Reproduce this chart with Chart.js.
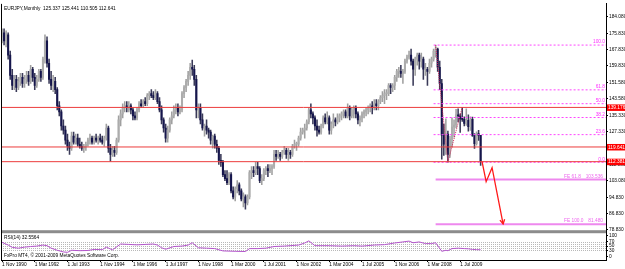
<!DOCTYPE html>
<html>
<head>
<meta charset="utf-8">
<script src="https://cdn.jsdelivr.net/npm/chart.js@4.4.0/dist/chart.umd.min.js"></script>
<style>
  html, body { margin: 0; padding: 0; background: #fff; }
  #wrap { width: 625px; height: 269px; }
</style>
</head>
<body>
<div id="wrap"><canvas id="chart" width="625" height="269"></canvas></div>
<script>
// EURJPY monthly bars, index 0 = Nov 1990 ... index 234 = May 2010
const opens = [
  174, 176,
  172, 175, 165, 155, 150, 153, 149, 152, 154, 151, 153, 155,
  152, 158, 154, 150, 153, 157, 154, 163, 172, 161, 153, 150,
  152, 148, 140, 137, 130, 128, 123, 120, 119, 125, 122, 124,
  121, 120, 119, 120, 121, 123, 124, 122, 124, 123, 124, 123,
  122, 124, 129, 119, 116, 118, 117, 123, 133, 136, 139, 140,
  139, 140, 138, 135, 134, 138, 141, 140, 142, 141, 145, 146,
  145, 144, 146, 142, 138, 133, 129, 124, 128, 133, 135, 138,
  139, 137, 138, 146, 149, 152, 155, 159, 158, 153, 138, 139,
  133, 129, 130, 128, 127, 123, 125, 121, 119, 113, 112, 106,
  104, 102, 106, 98, 95, 99, 101, 98, 94, 95, 92, 95,
  107, 108, 107, 110, 109, 103, 104, 108, 109, 108, 109, 110,
  116, 115, 116, 115, 117, 118, 116, 117, 116, 120, 121, 121,
  124, 127, 128, 129, 132, 138, 136, 134, 130, 128, 127, 130,
  134, 132, 134, 128, 131, 133, 132, 134, 135, 136, 137, 135,
  139, 135, 138, 139, 136, 133, 134, 136, 137, 138, 139, 140,
  139, 141, 140, 142, 144, 145, 146, 146, 150, 149, 150, 154,
  157, 157, 156, 157, 162, 164, 165, 162, 158, 163, 165, 162,
  163, 158, 158, 157, 161, 163, 167, 168, 159, 151, 125.5, 121,
  126, 116, 123.5, 129.5, 130.5, 135.5, 135, 133.5, 133.3, 131.3, 132.8, 129.7,
  133.3, 125.4, 121.3, 126.2, 125.337
];
const highs = [
  178, 178,
  177, 176, 167, 158, 155, 155, 154, 156, 156, 155, 157, 157,
  160, 159, 156, 155, 158, 158, 164, 175, 174, 163, 157, 155,
  154, 149, 142, 138, 133, 130, 126, 122, 127, 127, 126, 126,
  124, 122, 121, 122, 124, 126, 125, 125, 126, 125, 126, 125,
  125, 131, 130, 121, 120, 120, 124, 135, 138, 141, 142, 142,
  142, 141, 139, 137, 139, 142, 143, 143, 144, 146, 147, 148,
  147, 148, 147, 144, 140, 134, 131, 130, 134, 137, 140, 141,
  141, 140, 147, 150, 153, 157, 161, 162.5, 160, 155, 141, 141,
  136, 131, 133, 129, 128, 125.5, 126, 123, 120, 116, 113, 108,
  108, 107, 107, 100, 100, 103, 102, 99, 97, 96, 96, 108,
  110, 110, 112, 112, 110, 106, 109, 110, 111, 111, 111, 118,
  118, 118, 117, 118, 120, 119, 119, 118, 121, 123, 122, 125,
  129, 129, 131, 133, 139, 141, 137, 135, 133, 130, 131, 135,
  136, 137, 135, 132, 136, 134, 136, 136, 137, 138, 138, 141,
  140, 139, 140, 140, 137, 135, 137, 138, 139, 140, 141, 142,
  143, 143, 143, 145, 147, 148, 148, 151, 151, 151, 155, 158,
  159, 160, 158, 163, 165, 167, 168, 163, 164, 166, 166, 166,
  164, 161, 159, 163, 164, 168, 169.96, 168.5, 162, 153, 131, 133.5,
  127.5, 125, 134, 133, 138.2, 138.5, 136, 139.2, 134.5, 138.5, 135.5, 134.5,
  134.4, 126.3, 127.1, 127.9, 125.441
];
const lows = [
  171, 170,
  169, 163, 153, 148, 148, 147, 148, 150, 149, 149, 151, 150,
  151, 152, 148, 149, 152, 152, 153, 161, 159, 151, 148, 147,
  146, 138, 135, 128, 126, 121, 118, 116, 118, 121, 121, 120,
  119, 118, 117, 118, 120, 121, 121, 121, 122, 121, 122, 121,
  120, 123, 117, 112.6, 115, 115, 116, 122, 130, 134, 137, 137,
  137, 136, 133, 133, 133, 137, 139, 139, 140, 140, 143, 144,
  143, 143, 141, 137, 131, 127, 122, 122, 127, 131, 134, 136,
  135, 136, 137, 144, 147, 150, 153, 155, 150, 134, 134, 131,
  128, 125, 126, 124, 121, 119, 119, 117, 111, 110, 105, 103,
  101, 101, 97, 94, 93, 97, 96, 93, 90, 88.9, 91, 94,
  104, 105, 106, 106, 102, 101, 103, 106, 105, 107, 106, 109,
  113, 114, 113, 114, 116, 114, 113, 114, 115, 119, 118, 120,
  123, 126, 124, 128, 131, 134, 131, 128, 125, 126, 126, 129,
  131, 131, 126, 126, 129, 130, 131, 132, 133, 134, 134, 134,
  133, 134, 134, 134, 131, 130, 132, 134, 135, 136, 137, 136,
  138, 138, 138, 141, 142, 141, 143, 145, 146, 147, 148, 152,
  154, 154, 151, 156, 161, 163, 160, 150, 155, 160, 158, 159,
  153, 155, 150, 156, 159, 162, 164, 157, 148, 113.6, 115.5, 116,
  112.08, 114.5, 119.5, 124.5, 129, 132, 126.8, 132.3, 130, 130.3, 127.4, 127.8,
  124.8, 118.9, 120.5, 122.9, 110.505
];
const closes = [
  176, 172,
  175, 165, 155, 150, 153, 149, 152, 154, 151, 153, 155, 152,
  158, 154, 150, 153, 157, 154, 163, 172, 161, 153, 150, 152,
  148, 140, 137, 130, 128, 123, 120, 119, 125, 122, 124, 121,
  120, 119, 120, 121, 123, 124, 122, 124, 123, 124, 123, 122,
  124, 129, 119, 116, 118, 117, 123, 133, 136, 139, 140, 139,
  140, 138, 135, 134, 138, 141, 140, 142, 141, 145, 146, 145,
  144, 146, 142, 138, 133, 129, 124, 128, 133, 135, 138, 139,
  137, 138, 146, 149, 152, 155, 159, 158, 153, 138, 139, 133,
  129, 130, 128, 127, 123, 125, 121, 119, 113, 112, 106, 104,
  102, 106, 98, 95, 99, 101, 98, 94, 95, 92, 95, 107,
  108, 107, 110, 109, 103, 104, 108, 109, 108, 109, 110, 116,
  115, 116, 115, 117, 118, 116, 117, 116, 120, 121, 121, 124,
  127, 128, 129, 132, 138, 136, 134, 130, 128, 127, 130, 134,
  132, 134, 128, 131, 133, 132, 134, 135, 136, 137, 135, 139,
  135, 138, 139, 136, 133, 134, 136, 137, 138, 139, 140, 139,
  141, 140, 142, 144, 145, 146, 146, 150, 149, 150, 154, 157,
  157, 156, 157, 162, 164, 165, 162, 158, 163, 165, 162, 163,
  158, 158, 157, 161, 163, 167, 168, 159, 151, 125.5, 121, 126,
  116, 123.5, 129.5, 130.5, 135.5, 135, 133.5, 133.3, 131.3, 132.8, 129.7, 133.3,
  125.4, 121.3, 126.2, 125.3, 112.641
];

// RSI(14): bar index / value
const rsiIdx = [0, 3, 5, 8, 11, 14, 17, 20, 22, 24, 27, 30, 32, 34, 38, 42, 45, 49, 51, 54, 58, 62, 66, 70,
  74, 76, 78, 80, 84, 88, 91, 93, 96, 100, 104, 108, 114, 119, 121, 125, 129, 133, 138, 145, 148, 150,
  153, 160, 166, 172, 176, 182, 187, 192, 196, 199, 201, 204, 207, 210, 212, 215, 217, 218, 220, 223,
  226, 228, 230, 232, 234];
const rsiVal = [68, 55, 44, 40, 45, 48, 50, 55, 52, 40, 30, 22, 20, 30, 28, 29, 34, 33, 45, 32, 60, 58, 56, 58,
  60, 55, 42, 35, 48, 50, 55, 66, 42, 40, 38, 27, 25, 24, 38, 38, 40, 48, 50, 55, 65, 75,
  52, 52, 50, 52, 50, 55, 57, 65, 70, 74, 66, 70, 62, 62, 66, 25, 30, 28, 38, 40,
  38, 37, 34, 33, 32.56];
const rsiLevels = [30, 40, 50, 60, 70];
const rsiTicks = [0, 30, 50, 70, 100];

// time axis
const xTickIdx = [0, 16, 32, 48, 64, 80, 96, 112, 128, 144, 160, 176, 192, 208, 224];
const xTickLabels = ['1 Nov 1990', '1 Mar 1992', '1 Jul 1993', '1 Nov 1994', '1 Mar 1996', '1 Jul 1997',
  '1 Nov 1998', '1 Mar 2000', '1 Jul 2001', '1 Nov 2002', '1 Mar 2004', '1 Jul 2005', '1 Nov 2006',
  '1 Mar 2008', '1 Jul 2009'];

// price axis
const priceTicks = [184.08, 175.83, 167.83, 159.83, 151.58, 143.58, 135.33, 127.33, 119.33, 111.08,
  103.08, 94.83, 86.83, 78.83];

// drawn objects
const srPrices = [139.176, 119.641, 112.381];
const fibLabels = ['100.0', '61.8', '50.0', '38.2', '23.6', '0.0'];
const fibPrices = [169.96, 147.85, 141.02, 134.19, 125.74, 112.08];
const fibStart = 211;
const feLabels = ['FE 61.8', 'FE 100.0'];
const fePrices = [103.536, 81.480];
const feStart = 212;
const feBaseX = [212, 218, 225];
const feBaseY = [169.96, 112.08, 139.2];
const zigX = [234.7, 236.7, 239.6, 245.0];
const zigY = [112.38, 102.5, 109.4, 81.6];

const xMin = -0.5, xMax = 295.3;
const FONT = '"Liberation Sans", Arial, sans-serif';
const fontPx = 4.8;

const bullBody = '#acacac', bearBody = '#15154c';
const bullWick = '#a0a0a0', bearWick = '#3a3a58';

const wickData = highs.map((h, i) => ({ x: i, y: [lows[i], h] }));
const bodyData = closes.map((c, i) => ({ x: i, y: [opens[i], c] }));
const isBull = closes.map((c, i) => c >= opens[i]);

function hLine(x0, y, color, width, dash) {
  return {
    type: 'line', data: [{ x: x0, y: y }, { x: xMax, y: y }],
    borderColor: color, borderWidth: width, borderDash: dash || [],
    pointRadius: 0, yAxisID: 'y', order: 1
  };
}

const datasets = [
  {
    type: 'bar', data: wickData, barThickness: 0.9, grouped: false, order: 4,
    backgroundColor: isBull.map(b => b ? bullWick : bearWick), yAxisID: 'y'
  },
  {
    type: 'bar', data: bodyData, barThickness: 1.4, grouped: false, order: 3, minBarLength: 1,
    backgroundColor: isBull.map(b => b ? bullBody : bearBody), yAxisID: 'y'
  }
];
srPrices.forEach(p => datasets.push(hLine(xMin, p, '#ec3c3c', 1)));
fibPrices.forEach(p => datasets.push(hLine(fibStart, p, '#ff44ff', 1, [2, 2])));
fePrices.forEach(p => datasets.push(hLine(feStart, p, '#ee88ee', 2)));
datasets.push({
  type: 'line', data: feBaseX.map((x, i) => ({ x: x, y: feBaseY[i] })),
  borderColor: '#cc2255', borderWidth: 1, borderDash: [1, 1], pointRadius: 0, yAxisID: 'y', order: 1
});
datasets.push({
  type: 'line', data: zigX.map((x, i) => ({ x: x, y: zigY[i] })),
  borderColor: '#ff1a1a', borderWidth: 1.3, pointRadius: 0, yAxisID: 'y', order: 0
});
datasets.push({
  type: 'line', data: rsiIdx.map((x, i) => ({ x: x, y: rsiVal[i] })),
  borderColor: '#b455cc', borderWidth: 1, pointRadius: 0, yAxisID: 'rsi', order: 0
});

const decor = {
  id: 'decor',
  beforeDraw(chart) {
    const ctx = chart.ctx;
    ctx.save();
    ctx.fillStyle = '#fff';
    ctx.fillRect(0, 0, chart.width, chart.height);
    ctx.restore();
  },
  beforeDatasetsDraw(chart) {
    const { ctx, chartArea: a, scales } = chart;
    ctx.save();
    ctx.strokeStyle = '#b8b8b8';
    ctx.lineWidth = 1;
    ctx.setLineDash([1, 1]);
    rsiLevels.forEach(v => {
      const y = Math.round(scales.rsi.getPixelForValue(v)) + 0.5;
      ctx.beginPath(); ctx.moveTo(a.left, y); ctx.lineTo(a.right, y); ctx.stroke();
    });
    ctx.restore();
  },
  afterDraw(chart) {
    const { ctx, chartArea: a, scales } = chart;
    const ys = scales.y, xs = scales.x;
    ctx.save();
    ctx.font = fontPx + 'px ' + FONT;

    // pane separator + left frame
    ctx.fillStyle = '#8c8c8c';
    ctx.fillRect(a.left, ys.bottom, a.right - a.left, 3);
    ctx.fillStyle = '#000';
    ctx.fillRect(a.left, a.top, 1, a.bottom - a.top);

    // fib level labels
    ctx.fillStyle = '#ff33ff';
    ctx.textAlign = 'right';
    ctx.textBaseline = 'bottom';
    fibPrices.forEach((p, k) => ctx.fillText(fibLabels[k], a.right - 1, ys.getPixelForValue(p) - 0.5));

    // expansion labels
    ctx.fillStyle = '#ee66ee';
    fePrices.forEach((p, k) => {
      const y = ys.getPixelForValue(p) - 1;
      ctx.textAlign = 'left';
      ctx.fillText(feLabels[k], a.right - 42, y);
      ctx.textAlign = 'right';
      ctx.fillText(p.toFixed(3), a.right - 3, y);
    });

    // arrow head on the projection
    const n = zigX.length;
    const x1 = xs.getPixelForValue(zigX[n - 2]), y1 = ys.getPixelForValue(zigY[n - 2]);
    const x2 = xs.getPixelForValue(zigX[n - 1]), y2 = ys.getPixelForValue(zigY[n - 1]);
    const ang = Math.atan2(y2 - y1, x2 - x1);
    ctx.strokeStyle = '#ff1a1a';
    ctx.lineWidth = 1.3;
    ctx.beginPath();
    ctx.moveTo(x2 - 5 * Math.cos(ang - 0.5), y2 - 5 * Math.sin(ang - 0.5));
    ctx.lineTo(x2, y2);
    ctx.lineTo(x2 - 5 * Math.cos(ang + 0.5), y2 - 5 * Math.sin(ang + 0.5));
    ctx.stroke();

    // price boxes for the horizontal lines
    ctx.textAlign = 'left';
    ctx.textBaseline = 'middle';
    srPrices.forEach(p => {
      const y = ys.getPixelForValue(p);
      ctx.fillStyle = '#ff0000';
      ctx.fillRect(a.right + 1, y - 3, chart.width - a.right - 1, 6.5);
      ctx.fillStyle = '#fff';
      ctx.fillText(p.toFixed(3), a.right + 2, y + 0.3);
    });

    // pane texts
    ctx.fillStyle = '#000';
    ctx.textBaseline = 'middle';
    ctx.fillText('EURJPY,Monthly  125.337 125.441 110.505 112.641', a.left + 3, a.top + 5);
    ctx.fillText('RSI(14) 32.5564', a.left + 3, ys.bottom + 7);
    ctx.fillText('FxPro MT4, \u00a9 2001-2009 MetaQuotes Software Corp.', a.left + 3, a.bottom - 4);
    ctx.restore();
  }
};

const tickFont = { family: FONT, size: fontPx };

new Chart(document.getElementById('chart'), {
  type: 'bar',
  data: { datasets: datasets },
  options: {
    responsive: false,
    animation: false,
    events: [],
    layout: { padding: { left: 1, top: 2, right: 0, bottom: 0 } },
    plugins: { legend: { display: false }, tooltip: { enabled: false } },
    scales: {
      x: {
        type: 'linear', min: xMin, max: xMax, offset: false,
        grid: { display: true, drawOnChartArea: false, offset: false, tickLength: 2, color: '#000' },
        border: { display: true, color: '#000' },
        afterBuildTicks: axis => { axis.ticks = xTickIdx.map(v => ({ value: v })); },
        afterFit: axis => { axis.height = 9; },
        ticks: {
          autoSkip: false, maxRotation: 0, align: 'start', padding: 0,
          color: '#000', font: tickFont,
          callback: (v, i) => xTickLabels[i]
        }
      },
      y: {
        type: 'linear', position: 'right', stack: 'pane', stackWeight: 228,
        min: 78.54, max: 190.3,
        grid: { display: true, drawOnChartArea: false, tickLength: 2, color: '#000' },
        border: { display: true, color: '#000' },
        afterBuildTicks: axis => { axis.ticks = priceTicks.map(v => ({ value: v })); },
        afterFit: axis => { axis.width = 19; },
        ticks: { autoSkip: false, padding: 1, color: '#000', font: tickFont, callback: v => v.toFixed(3) }
      },
      rsi: {
        type: 'linear', position: 'right', stack: 'pane', stackWeight: 30,
        min: -16.7, max: 126.2,
        grid: { display: true, drawOnChartArea: false, tickLength: 2, color: '#000' },
        border: { display: true, color: '#000' },
        afterBuildTicks: axis => { axis.ticks = rsiTicks.map(v => ({ value: v })); },
        afterFit: axis => { axis.width = 19; },
        ticks: { autoSkip: false, padding: 1, color: '#000', font: tickFont, callback: v => String(v) }
      }
    }
  },
  plugins: [decor]
});
</script>
</body>
</html>
